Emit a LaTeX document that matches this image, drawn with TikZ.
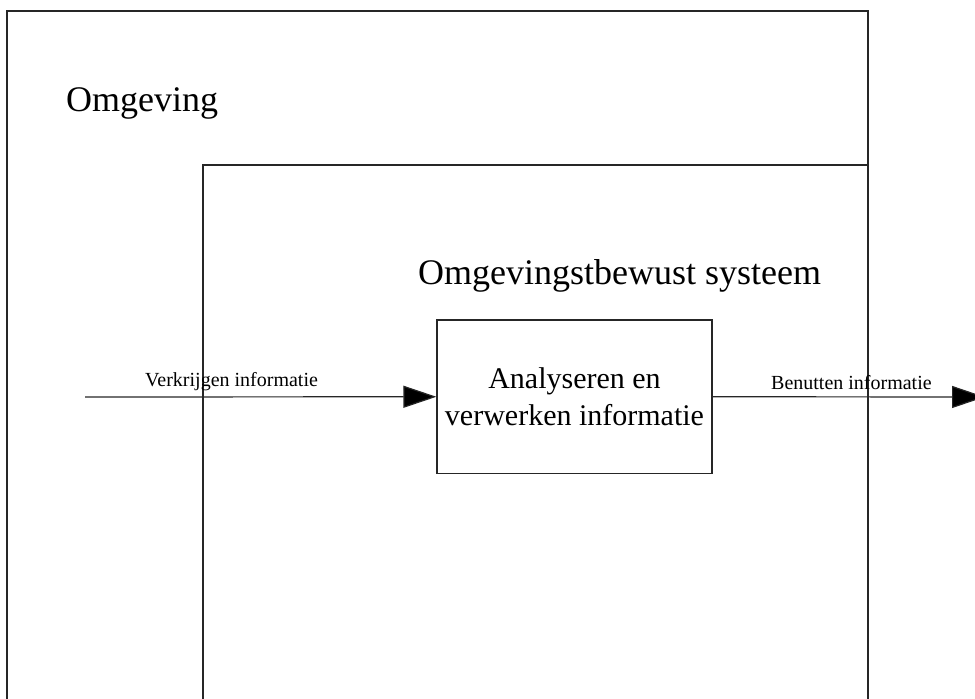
\documentclass[tikz,border=0pt]{standalone}
\usepackage{fontspec}
\setmainfont{Liberation Serif}
\usetikzlibrary{arrows.meta}
\begin{document}
\begin{tikzpicture}[x=1pt,y=-1pt,
  frame/.style={draw=black!85,line width=1.2pt},
  procbox/.style={draw=black!85,line width=1.2pt,minimum width=275pt,minimum height=153.5pt,
    inner sep=0pt,align=center,font=\fontsize{30}{37}\selectfont},
  flow/.style={draw=black!85,line width=1.2pt,-{Triangle[length=33pt,width=22pt,fill=black]}},
  biglabel/.style={anchor=base west,inner sep=0pt,font=\fontsize{36}{43}\selectfont},
  flowlabel/.style={anchor=base west,inner sep=0pt,font=\fontsize{20}{24}\selectfont}]
\useasboundingbox (0,0) rectangle (975,699);
% environment and system frames (open at the bottom)
\draw[frame] (7,699) |- (868,11) -- (868,699);
\draw[frame] (203,699) |- (868,165);
% titles
\node[biglabel] (env) at (66,111) {Omgeving};
\node[biglabel] (sys) at (418,284) {Omgevingstbewust systeem};
% processing block
\node[procbox] (proc) at (574.5,396.75) {Analyseren en\\verwerken informatie};
% incoming and outgoing information flows
\coordinate (src) at (85,397);
\coordinate (dst) at (985,397);
\draw[flow] (src) -- (proc.west);
\draw[flow] (proc.east) -- (dst);
\node[flowlabel] (inlbl) at (145,386) {Verkrijgen informatie};
\node[flowlabel] (outlbl) at (771,389) {Benutten informatie};
\end{tikzpicture}
\end{document}
